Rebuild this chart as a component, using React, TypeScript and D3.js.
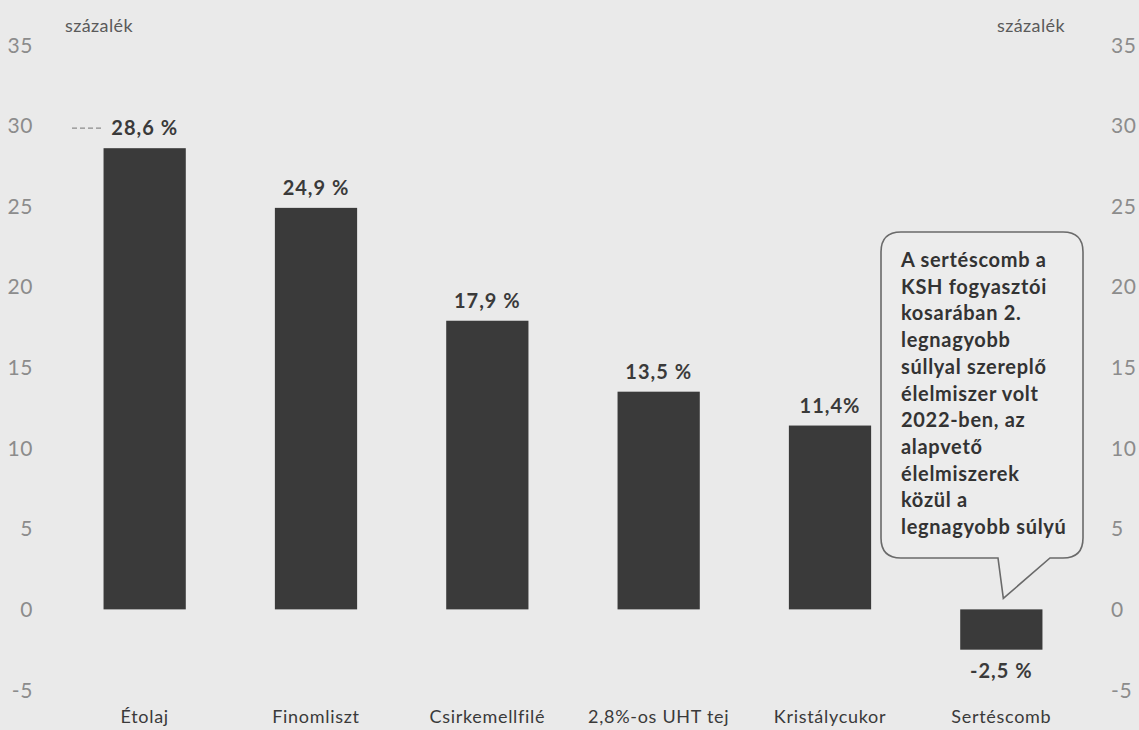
import React from "react";
import * as d3 from "d3";

const categories = ["Étolaj", "Finomliszt", "Csirkemellfilé", "2,8%-os UHT tej", "Kristálycukor", "Sertéscomb"];
const values = [28.6, 24.9, 17.9, 13.5, 11.4, -2.5];
const valueLabels = ["28,6 %", "24,9 %", "17,9 %", "13,5 %", "11,4%", "-2,5 %"];
const yTicks = [-5, 0, 5, 10, 15, 20, 25, 30, 35];
const unitLabel = "százalék";
const calloutLines = [
  "A sertéscomb a",
  "KSH fogyasztói",
  "kosarában 2.",
  "legnagyobb",
  "súllyal szereplő",
  "élelmiszer volt",
  "2022-ben, az",
  "alapvető",
  "élelmiszerek",
  "közül a",
  "legnagyobb súlyú",
];

const W = 1139;
const H = 730;
const FONT = "Lato, Carlito, 'Open Sans', sans-serif";

export default function App() {
  const x = d3.scaleBand<string>().domain(categories).range([59, 1087]).paddingInner(0.52).paddingOuter(0.26);
  const y = d3.scaleLinear().domain([-5, 35]).range([690, 45]);
  const y0 = y(0);

  // callout geometry
  const bx0 = 881, bx1 = 1083, by0 = 232, by1 = 558, r = 20;
  const lastCx = (x(categories[5]) as number) + x.bandwidth() / 2;
  const tipX = lastCx + 2, tipY = y0 - 11;
  const pb0 = 998, pb1 = 1050;
  const calloutPath = [
    `M${bx0 + r},${by0}`,
    `L${bx1 - r},${by0}`,
    `Q${bx1},${by0} ${bx1},${by0 + r}`,
    `L${bx1},${by1 - r}`,
    `Q${bx1},${by1} ${bx1 - r},${by1}`,
    `L${pb1},${by1}`,
    `L${tipX},${tipY}`,
    `L${pb0},${by1}`,
    `L${bx0 + r},${by1}`,
    `Q${bx0},${by1} ${bx0},${by1 - r}`,
    `L${bx0},${by0 + r}`,
    `Q${bx0},${by0} ${bx0 + r},${by0}`,
    "Z",
  ].join(" ");

  return (
    <div style={{ position: "fixed", left: 0, top: 0, width: W, height: H }}>
      <svg width={W} height={H} style={{ display: "block" }} fontFamily={FONT}>
        <rect x={0} y={0} width={W} height={H} fill="#eaeaea" />
        {/* unit labels */}
        <text x={65} y={32} fontSize={18} fill="#5a5a5a" letterSpacing={0.4}>{unitLabel}</text>
        <text x={997} y={32} fontSize={18} fill="#5a5a5a" letterSpacing={0.4}>{unitLabel}</text>
        {/* left ticks */}
        {yTicks.map((t) => (
          <text key={"l" + t} x={33} y={y(t)} dy="0.36em" textAnchor="end" fontSize={21} fill="#8c8c8c" letterSpacing={0.6}>
            {t < 0 ? "-" + Math.abs(t) : String(t)}
          </text>
        ))}
        {/* right ticks */}
        {yTicks.map((t) => (
          <text key={"r" + t} x={1111} y={y(t)} dy="0.36em" textAnchor="start" fontSize={21} fill="#8c8c8c" letterSpacing={0.6}>
            {t < 0 ? "-" + Math.abs(t) : String(t)}
          </text>
        ))}
        {/* bars */}
        {values.map((v, i) => {
          const bx = x(categories[i]) as number;
          const top = Math.min(y(v), y0);
          const h = Math.abs(y(v) - y0);
          return <rect key={"b" + i} x={bx} y={top} width={x.bandwidth()} height={h} fill="#3a3a3a" />;
        })}
        {/* value labels */}
        {values.map((v, i) => {
          const cx = (x(categories[i]) as number) + x.bandwidth() / 2;
          const ly = v >= 0 ? y(v) - 13 : y(v) + 28;
          return (
            <text key={"v" + i} x={cx} y={ly} textAnchor="middle" fontSize={20} fontWeight="bold" fill="#3a3a3a" letterSpacing={1}>
              {valueLabels[i]}
            </text>
          );
        })}
        {/* leader dashes near first label */}
        <line x1={72} x2={101} y1={y(values[0]) - 20} y2={y(values[0]) - 20} stroke="#8c8c8c" strokeWidth={1.3} strokeDasharray="5,3" />
        {/* category labels */}
        {categories.map((c) => (
          <text key={"c" + c} x={(x(c) as number) + x.bandwidth() / 2} y={723} textAnchor="middle" fontSize={18} fill="#3a3a3a" letterSpacing={0.7}>
            {c}
          </text>
        ))}
        {/* callout */}
        <path d={calloutPath} fill="#ececec" stroke="#6a6a6a" strokeWidth={1.6} />
        {calloutLines.map((l, i) => (
          <text key={"t" + i} x={901} y={267 + i * 26.7} fontSize={20} fontWeight="bold" fill="#333" letterSpacing={0.7}>
            {l}
          </text>
        ))}
      </svg>
    </div>
  );
}
